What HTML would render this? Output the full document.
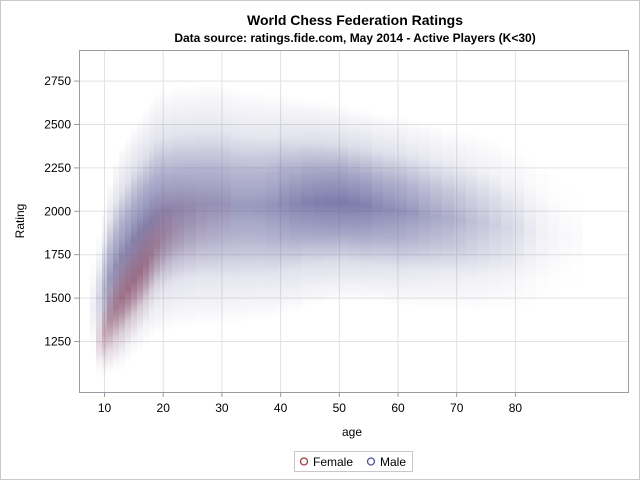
<!DOCTYPE html>
<html><head><meta charset="utf-8"><style>
body{margin:0;background:#fff;font-family:"Liberation Sans",sans-serif}
</style></head><body>
<svg id="chart" width="640" height="480" xmlns="http://www.w3.org/2000/svg" font-family="Liberation Sans, sans-serif">
<rect x="0.5" y="0.5" width="639" height="479" fill="#fff" stroke="#c8c8c8"/>
<text x="355" y="25" text-anchor="middle" font-size="14" font-weight="bold">World Chess Federation Ratings</text>
<text x="355" y="42" text-anchor="middle" font-size="12" font-weight="bold">Data source: ratings.fide.com, May 2014 - Active Players (K&lt;30)</text>
<defs id="defs"><clipPath id="clip"><rect x="80" y="51" width="548" height="341"/></clipPath></defs>
<g id="grid"></g>
<g id="marks" clip-path="url(#clip)"></g>
<rect x="79.5" y="50.5" width="549" height="342" fill="none" stroke="#9a9ea4"/>
<g id="axes"></g>
<text x="352" y="436" text-anchor="middle" font-size="12">age</text>
<text transform="translate(24,221) rotate(-90)" text-anchor="middle" font-size="12">Rating</text>
<g>
<rect x="294.5" y="451.5" width="118" height="20" fill="#fff" stroke="#c8c8c8"/>
<circle cx="304" cy="461.5" r="3.5" fill="none" stroke="#a03c3c" stroke-width="1.3"/>
<text x="313" y="466" font-size="12">Female</text>
<circle cx="371" cy="461.5" r="3.5" fill="none" stroke="#50509a" stroke-width="1.3"/>
<text x="380" y="466" font-size="12">Male</text>
</g>
</svg>
<script>
const xTicks=[10,20,30,40,50,60,70,80];
const yTicks=[1250,1500,1750,2000,2250,2500,2750];
// male per-age density bands: age, center rating, half extent, intensity
const maleAges=[8,9,10,11,12,13,14,15,16,17,18,19,20,22,24,26,28,30,32,34,36,38,40,42,44,46,48,50,52,54,56,58,60,62,64,66,68,70,72,74,76,78,80,82,84,86,88,90];
const maleCenter=[1450,1500,1550,1620,1680,1730,1780,1830,1870,1910,1950,1980,2000,2020,2030,2040,2040,2040,2030,2030,2030,2030,2040,2040,2050,2050,2050,2050,2040,2030,2020,2010,2000,1990,1980,1970,1960,1950,1940,1930,1920,1900,1900,1880,1870,1850,1850,1850];
const maleSpread=[300,380,480,560,620,650,660,670,680,680,690,700,700,700,700,700,700,690,680,670,660,650,640,620,600,590,580,570,560,560,550,550,550,540,540,530,520,520,520,510,500,480,470,450,420,380,330,300];
const maleInt=[0.1,0.26,0.45,0.6,0.66,0.7,0.72,0.74,0.75,0.75,0.74,0.72,0.7,0.68,0.66,0.64,0.64,0.63,0.62,0.62,0.63,0.66,0.7,0.74,0.77,0.79,0.8,0.8,0.79,0.77,0.73,0.7,0.67,0.63,0.58,0.54,0.5,0.45,0.4,0.35,0.3,0.25,0.2,0.14,0.09,0.06,0.04,0.03];
const femaleAges=[9,10,11,12,13,14,15,16,17,18,19,20,21,22,23,24,26,28,30];
const femaleCenter=[1250,1300,1380,1450,1500,1550,1600,1650,1700,1760,1810,1850,1880,1900,1920,1940,1960,1980,2000];
const femaleSpread=[220,260,300,320,330,330,340,340,340,340,330,330,320,320,320,320,320,320,320];
const femaleInt=[0.18,0.35,0.45,0.52,0.56,0.58,0.58,0.56,0.52,0.46,0.4,0.34,0.28,0.24,0.2,0.16,0.12,0.08,0.05];
const NS="http://www.w3.org/2000/svg";
const X=a=>104.5+(a-10)*5.87;
const Y=r=>341.5-(r-1250)*0.1736;
const defs=document.getElementById('defs'),grid=document.getElementById('grid'),marks=document.getElementById('marks'),axes=document.getElementById('axes');
function mk(t,a,p){const e=document.createElementNS(NS,t);for(const k in a)e.setAttribute(k,a[k]);p.appendChild(e);return e;}
xTicks.forEach(v=>{
  const l=mk('line',{x1:X(v),x2:X(v),y1:51,y2:392,stroke:'#e2e2e2'},grid);
  
  
  mk('line',{x1:X(v),x2:X(v),y1:392,y2:397,stroke:'#9a9ea4'},axes);
  const t=mk('text',{x:X(v),y:412,'text-anchor':'middle','font-size':'12'},axes);t.textContent=v;
  
  
});
yTicks.forEach(v=>{
  const l=mk('line',{x1:80,x2:628,y1:Y(v),y2:Y(v),stroke:'#e2e2e2'},grid);
  
  
  mk('line',{x1:74,x2:79,y1:Y(v),y2:Y(v),stroke:'#9a9ea4'},axes);
  const t=mk('text',{x:71,y:Y(v)+4,'text-anchor':'end','font-size':'12'},axes);t.textContent=v;
  
  
});
let gid=0;
function band(ages,centers,spreads,ints,col,name){
  ages.forEach((a,i)=>{
    const next=i<ages.length-1?ages[i+1]:a+2;
    const x0=Math.round(X(a)-2.9),x1=Math.round(X(next)-2.9);
    const id='g'+(gid++);
    const g=mk('linearGradient',{id:id,x1:0,y1:0,x2:0,y2:1},defs);
    const I=ints[i];
    [[0,0],[0.2,0.25],[0.35,0.7],[0.5,1],[0.65,0.7],[0.8,0.25],[1,0]].forEach(s=>mk('stop',{offset:s[0],'stop-color':col,'stop-opacity':(I*s[1]).toFixed(3)},g));
    const yt=Y(centers[i]+spreads[i]),yb=Y(centers[i]-spreads[i]);
    const r=mk('rect',{x:x0,y:yt,width:x1-x0,height:yb-yt,fill:'url(#'+id+')','shape-rendering':'crispEdges'},marks);
    
    
  });
}
band(maleAges,maleCenter,maleSpread,maleInt,'#5c5c98','male-points');
band(femaleAges,femaleCenter,femaleSpread,femaleInt,'#8a3c50','female-points');
</script>
</body></html>
